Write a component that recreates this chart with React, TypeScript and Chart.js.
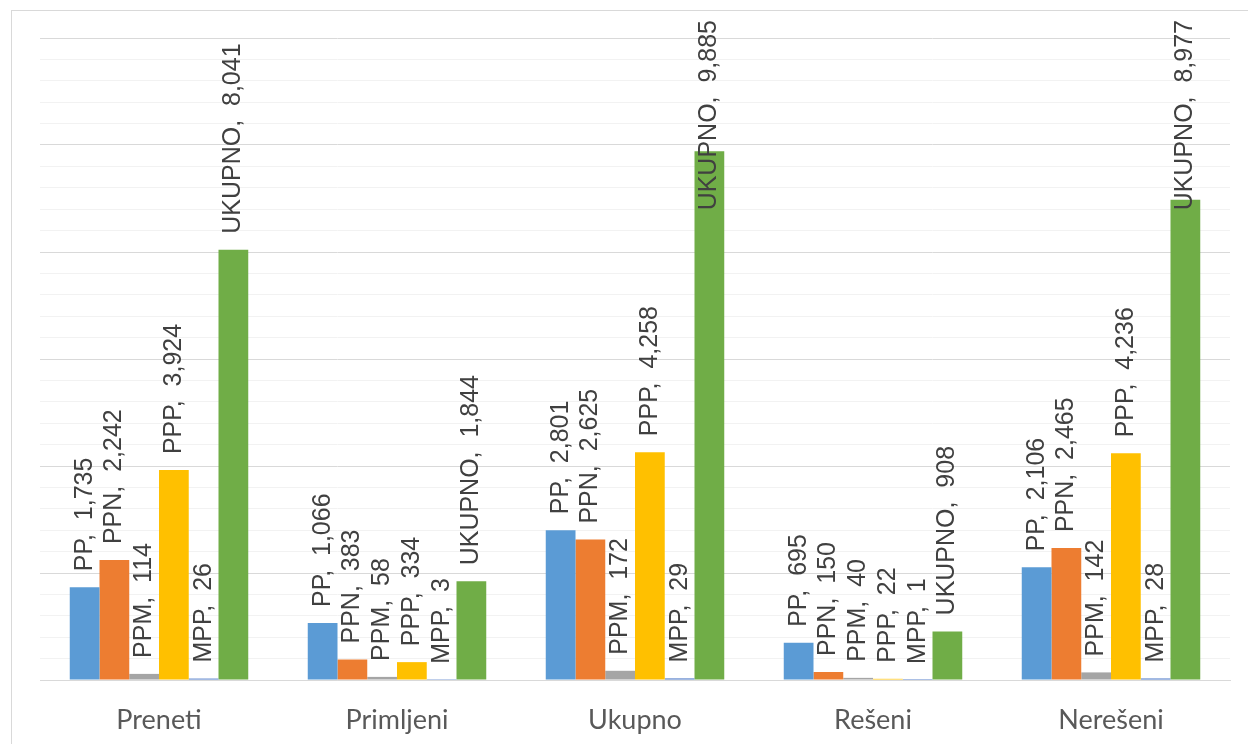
import React, { useEffect, useRef } from "react";
import { Chart, registerables } from "chart.js";

Chart.register(...registerables);

const categories = ["Preneti", "Primljeni", "Ukupno", "Rešeni", "Nerešeni"];
const seriesNames = ["PP", "PPN", "PPM", "PPP", "MPP", "UKUPNO"];
const ppValues = [1735, 1066, 2801, 695, 2106];
const ppnValues = [2242, 383, 2625, 150, 2465];
const ppmValues = [114, 58, 172, 40, 142];
const pppValues = [3924, 334, 4258, 22, 4236];
const mppValues = [26, 3, 29, 1, 28];
const ukupnoValues = [8041, 1844, 9885, 908, 8977];
const seriesColors = ["#5B9BD5", "#ED7D31", "#A5A5A5", "#FFC000", "#4472C4", "#70AD47"];
const yMin = 0;
const yMax = 12000;
const yStep = 400;
const yMajorStep = 2000;

const labelPlugin = {
  id: "barLabels",
  afterDatasetsDraw(chart: any) {
    const ctx = chart.ctx;
    ctx.save();
    ctx.font = "25px 'Liberation Sans', Arial, sans-serif";
    ctx.fillStyle = "#404040";
    ctx.textAlign = "left";
    ctx.textBaseline = "middle";
    chart.data.datasets.forEach((ds: any, di: number) => {
      const meta = chart.getDatasetMeta(di);
      meta.data.forEach((el: any, i: number) => {
        const v = ds.data[i];
        const text = `${ds.label},  ${v.toLocaleString("en-US")}`;
        const w = ctx.measureText(text).width;
        let start = el.y - 16;
        if (start - w < 20) start = 20 + w;
        ctx.save();
        ctx.translate(el.x, start);
        ctx.rotate(-Math.PI / 2);
        ctx.fillText(text, 0, 0);
        ctx.restore();
      });
    });
    ctx.restore();
  },
};

export default function App() {
  const ref = useRef<HTMLCanvasElement | null>(null);
  useEffect(() => {
    const allValues = [ppValues, ppnValues, ppmValues, pppValues, mppValues, ukupnoValues];
    const chart = new Chart(ref.current as HTMLCanvasElement, {
      type: "bar",
      data: {
        labels: categories,
        datasets: seriesNames.map((name, i) => ({
          label: name,
          data: allValues[i],
          backgroundColor: seriesColors[i],
          borderWidth: 0,
          barPercentage: 1,
          categoryPercentage: 0.75,
        })),
      },
      options: {
        animation: false,
        responsive: false,
        maintainAspectRatio: false,
        layout: { padding: { left: 40, right: 18, top: 38, bottom: 0 } },
        plugins: { legend: { display: false }, tooltip: { enabled: false } },
        scales: {
          x: {
            grid: { display: false },
            border: { display: true, color: "#D9D9D9", width: 1 },
            ticks: {
              color: "#595959",
              font: { family: "Lato, 'Open Sans', sans-serif", size: 27 },
              padding: 16,
            },
            afterFit: (scale: any) => {
              scale.height = 64;
            },
          },
          y: {
            min: yMin,
            max: yMax,
            ticks: { display: false, stepSize: yStep },
            border: { display: false },
            grid: {
              drawTicks: false,
              color: (c: any) => (c.tick && c.tick.value % yMajorStep === 0 ? "#D9D9D9" : "#F2F2F2"),
              lineWidth: 1,
            },
            afterFit: (scale: any) => {
              scale.width = 0;
            },
          },
        },
      },
      plugins: [labelPlugin],
    });
    return () => chart.destroy();
  }, []);
  return (
    <div style={{ position: "fixed", left: 0, top: 0, width: 1248, height: 744, overflow: "hidden", background: "#fff" }}>
      <div
        style={{
          position: "absolute",
          left: 11,
          top: 10,
          width: 1260,
          height: 760,
          border: "1px solid #D9D9D9",
          boxSizing: "border-box",
        }}
      />
      <canvas ref={ref} width={1248} height={744} style={{ position: "absolute", left: 0, top: 0 }} />
    </div>
  );
}
